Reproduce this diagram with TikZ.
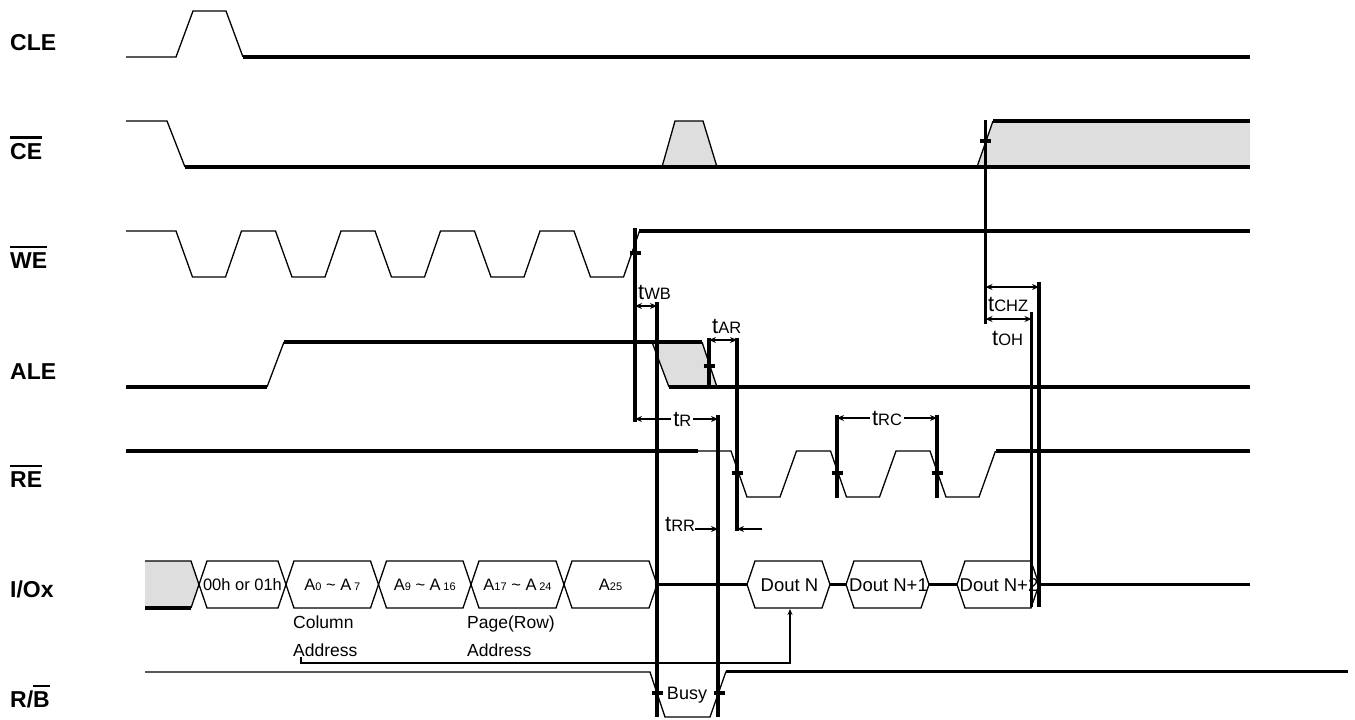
\documentclass[tikz,border=0pt]{standalone}
\usepackage{fontspec}
\setmainfont{Liberation Sans}
\usetikzlibrary{arrows.meta,positioning,calc}
\definecolor{dcgray}{RGB}{222,222,222}
\newcommand{\sigbar}[1]{\setbox0\hbox{#1}\rlap{\rule[\dimexpr\ht0+4pt\relax]{\wd0}{2.6pt}}\box0}
\newcommand{\tsub}[1]{{\fontsize{22}{22}\selectfont t}{\fontsize{16.5}{18}\selectfont #1}}
\newcommand{\asub}[1]{A{\fontsize{11}{12}\selectfont #1}}

\begin{document}
\begin{tikzpicture}[x=1pt,y=-1pt,
		thinw/.style={line width=1.3pt},
		thickw/.style={line width=3.2pt},
		cell/.style={line width=1.3pt},
		marker/.style={line width=3.2pt},
		tarrow/.style={line width=2.8pt,{Stealth[length=7pt,width=6pt]}-{Stealth[length=7pt,width=6pt]}},
		sarrow/.style={line width=2.8pt,-{Stealth[length=7pt,width=6pt]}},
		sig/.style={font=\fontsize{23}{26}\selectfont\bfseries, anchor=base west, inner sep=0pt},
		txt/.style={font=\fontsize{16.5}{18}\selectfont, inner sep=0pt},
		lab/.style={inner sep=1pt, anchor=base west}]

	\useasboundingbox (0,0) rectangle (1355,720);

	% signal names
	\node[sig] (cle) at (10,50) {CLE};
	\node[sig] (ce) at (10,159) {\sigbar{CE}};
	\node[sig] (we) at (10,268) {\sigbar{WE}};
	\node[sig] (ale) at (10,379) {ALE};
	\node[sig] (re) at (10,487) {\sigbar{RE}};
	\node[sig] (io) at (10,597) {I/Ox};
	\node[sig] (rb) at (10,707) {R/\sigbar{B}};

	% gray (don't care) areas
	\fill[dcgray] (662,167) -- (675,121) -- (703,121) -- (717,167) -- cycle;
	\fill[dcgray] (977,167) -- (993,121) -- (1250,121) -- (1250,167) -- cycle;
	\fill[dcgray] (652,342) -- (702,342) -- (717,387) -- (669,387) -- cycle;
	\fill[dcgray] (145,561) -- (191,561) -- (199,584.5) -- (191,608) -- (145,608) -- cycle;

	% CLE
	\draw[thinw] (126,57) -- (176,57) -- (193,11) -- (226,11) -- (243,57);
	\draw[thickw] (243,57) -- (1250,57);
	% CE
	\draw[thinw] (126,121) -- (167,121) -- (185,167);
	\draw[thickw] (185,167) -- (1250,167);
	\draw[cell] (662,167) -- (675,121) -- (703,121) -- (717,167);
	\draw[thinw] (977,167) -- (993,121);
	\draw[thickw] (993,121) -- (1250,121);
	% WE
	\draw[thinw] (126,231)
		\foreach \k in {0,...,4} {
			-- ({176+99.5*\k},231) -- ({192.5+99.5*\k},277) -- ({225.5+99.5*\k},277) -- ({241.5+99.5*\k},231)};
	\draw[thickw] (639,231) -- (1250,231);
	% ALE
	\draw[thinw] (267,387) -- (284,342);
	\draw[thickw] (126,387) -- (267,387);
	\draw[thickw] (284,342) -- (702,342);
	\draw[cell] (652,342) -- (669,387) (702,342) -- (717,387);
	\draw[thickw] (669,387) -- (1250,387);
	% RE
	\draw[thickw] (126,451) -- (698,451);
	\draw[thinw] (698,451)
		\foreach \k in {0,...,2} {
			-- ({731+99.5*\k},451) -- ({747+99.5*\k},497) -- ({780+99.5*\k},497) -- ({796.5+99.5*\k},451)};
	\draw[thickw] (996,451) -- (1250,451);
	% I/Ox
	\draw[cell] (145,561) -- (191,561) -- (199,584.5) -- (191,608);
	\draw[thickw] (145,608) -- (191,608);
	\foreach \a/\b/\t [count=\i] in {199/286/{00h or 01h},
			286/378.5/{\asub{0} \textasciitilde{} A\,{\fontsize{11}{12}\selectfont 7}},
			378.5/471/{\asub{9} \textasciitilde{} A\,{\fontsize{11}{12}\selectfont 16}},
			471/564/{\asub{17} \textasciitilde{} A\,{\fontsize{11}{12}\selectfont 24}},
			564/657/{\asub{25}}} {
		\draw[cell] (\a,584.5) -- ({\a+8},561) -- ({\b-8},561) -- (\b,584.5) -- ({\b-8},608) -- ({\a+8},608) -- cycle;
		\node[txt] (addr\i) at ({(\a+\b)/2},585) {\t};
	}
	\foreach \a/\b/\t [count=\i] in {747/830/{Dout N}, 846/929/{Dout N+1}, 957/1039/{Dout N+2}} {
		\draw[cell] (\a,584.5) -- ({\a+8},561) -- ({\b-8},561) -- (\b,584.5) -- ({\b-8},608) -- ({\a+8},608) -- cycle;
		\node[txt, font=\fontsize{18.5}{20}\selectfont] (dout\i) at ({(\a+\b)/2+1},585) {\t};
	}
	\draw[thickw] (657,584.5) -- (747,584.5) (830,584.5) -- (846,584.5)
		(929,584.5) -- (957,584.5) (1039,584.5) -- (1250,584.5);
	\node[txt, font=\fontsize{17.5}{20}\selectfont, anchor=base west] (col) at (293,628) {Column};
	\node[txt, font=\fontsize{17.5}{20}\selectfont, anchor=base west] (coladdr) at (293,656) {Address};
	\node[txt, font=\fontsize{17.5}{20}\selectfont, anchor=base west] (row) at (467,628) {Page(Row)};
	\node[txt, font=\fontsize{17.5}{20}\selectfont, anchor=base west] (rowaddr) at (467,656) {Address};
	\coordinate (colfoot) at (301,657);
	\draw[line width=2.8pt,-{Stealth[length=6pt,width=5pt]}] (colfoot) |- (790,663) -- (790,609);
	% R/B
	\draw[thinw] (145,672) -- (650,672) -- (665,717) -- (710,717) -- (726,671.5);
	\draw[thickw] (726,671.5) -- (1348,671.5);
	\node[txt, font=\fontsize{18}{20}\selectfont] (busy) at (687,695) {Busy};

	% timing markers
	\foreach \x/\ya/\yb in {635/228/422, 657/302/717, 709/338/387, 718/415/717, 737/338/531,
			837/415/498, 937/415/498, 985.5/120/324, 1031.5/312/607, 1039/282/607}
		\draw[marker] (\x,\ya) -- (\x,\yb);
	\foreach \x/\y in {635/253, 709/366, 985.5/141, 737/473, 837/473, 937/473, 657/693, 719/693}
		\draw[marker] ({\x-5.5},\y) -- ({\x+5.5},\y);

	% timing arrows
	\coordinate (wbL) at (635,306); \coordinate (wbR) at (657,306);
	\draw[tarrow] (wbL) -- (wbR);
	\node[lab] (twb) at (637,299) {\tsub{WB}};
	\coordinate (arL) at (709,340); \coordinate (arR) at (737,340);
	\draw[tarrow] (arL) -- (arR);
	\node[lab] (tar) at (711,333) {\tsub{AR}};
	\coordinate (rL) at (635,419); \coordinate (rR) at (718,419);
	\draw[tarrow] (rL) -- node[pos=0.57, fill=white, inner sep=2pt] (tr) {\tsub{R}} (rR);
	\coordinate (rcL) at (837,418); \coordinate (rcR) at (937,418);
	\draw[tarrow] (rcL) -- node[fill=white, inner sep=2pt] (trc) {\tsub{RC}} (rcR);
	\node[lab, inner sep=0pt] (trr) at (665,531) {\tsub{RR}};
	\coordinate (rrR) at (718,529); \coordinate (rrB) at (737,529); \coordinate (rrT) at (762,529);
	\draw[sarrow] (trr.east |- rrR) -- (rrR);
	\draw[sarrow] (rrT) -- (rrB);
	\coordinate (chzL) at (985.5,287); \coordinate (chzR) at (1039,287);
	\draw[tarrow] (chzL) -- (chzR);
	\node[lab] (tchz) at (987,311) {\tsub{CHZ}};
	\coordinate (ohL) at (985.5,319); \coordinate (ohR) at (1031.5,319);
	\draw[tarrow] (ohL) -- (ohR);
	\node[lab] (toh) at (991,345) {\tsub{OH}};
\end{tikzpicture}
\end{document}
